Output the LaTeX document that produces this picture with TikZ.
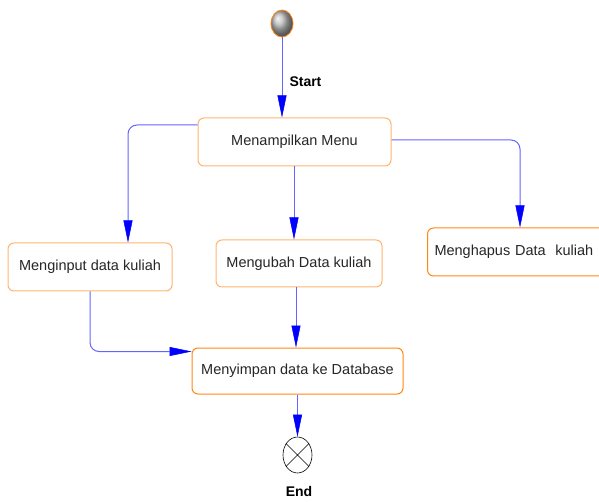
\documentclass[tikz,border=0pt]{standalone}
\usepackage{fontspec}
\setmainfont{Liberation Sans}
\usetikzlibrary{shapes.geometric,arrows.meta,calc}
\definecolor{lightor}{RGB}{255,180,110}
\definecolor{darkor}{RGB}{255,135,20}
\definecolor{linebl}{RGB}{100,100,255}
\definecolor{tipbl}{RGB}{0,0,255}
\tikzset{
  actbox/.style={draw=lightor, line width=1pt, rounded corners=6pt, fill=white,
    font=\fontsize{14.5}{17}\selectfont, text=black!85, inner sep=0pt, align=center},
  actdark/.style={actbox, draw=darkor},
  flow/.style={draw=linebl, line width=1pt, rounded corners=9pt,
    -{Triangle[length=22pt,width=9pt,color=tipbl,fill=tipbl,line width=0.5pt]}},
  lbl/.style={font=\fontsize{14}{16}\selectfont\bfseries, inner sep=0pt}
}
\begin{document}
\begin{tikzpicture}[x=1pt,y=-1pt]
\useasboundingbox (0,0) rectangle (599,502);
% start
\node[ellipse, draw=darkor, line width=0.8pt, ball color=gray!55,
  minimum width=22pt, minimum height=27pt, inner sep=0pt] (start) at (282,23.5) {};
% activities
\node[actbox, minimum width=193pt, minimum height=48pt] (menu) at (294.5,142) {Menampilkan Menu};
\node[actbox, minimum width=164pt, minimum height=48pt] (input) at (90,267) {Menginput data kuliah};
\node[actbox, minimum width=166pt, minimum height=47pt] (ubah) at (299,263.5) {Mengubah Data kuliah};
\node[actdark, anchor=west, minimum width=200pt, minimum height=48pt, text width=186pt,
  inner xsep=7pt, align=left] (hapus) at (427,252) {Menghapus Data\ \ kuliah};
\node[actdark, minimum width=211pt, minimum height=46pt] (simpan) at (297.5,371) {Menyimpan data ke Database};
% end
\node[ellipse, draw=black, line width=0.6pt, fill=white, minimum width=29pt,
  minimum height=36pt, inner sep=0pt] (end) at (297.5,455) {};
\draw[line width=0.5pt] (end.135) -- (end.-45) (end.45) -- (end.-135);
\node[lbl] (endlbl) at (299,491) {End};
% connectors
\draw[flow] (start.south) -- (start.south |- menu.north)
  node[lbl, pos=0.55, right=7pt] (startlbl) {Start};
\draw[flow] ([yshift=17pt]menu.west) -| ([xshift=38pt]input.north);
\draw[flow] ([xshift=-0.5pt]menu.south) -- ([xshift=-0.5pt]menu.south |- ubah.north);
\draw[flow] ([yshift=2pt]menu.east) -| ([xshift=93pt]hapus.north west);
\draw[flow] (input.south) |- ([yshift=-4pt]simpan.north west);
\draw[flow] ([xshift=-3pt]ubah.south) -- ([xshift=-3pt]ubah.south |- simpan.north);
\draw[flow] (simpan.south) -- (end.north);
\end{tikzpicture}
\end{document}
